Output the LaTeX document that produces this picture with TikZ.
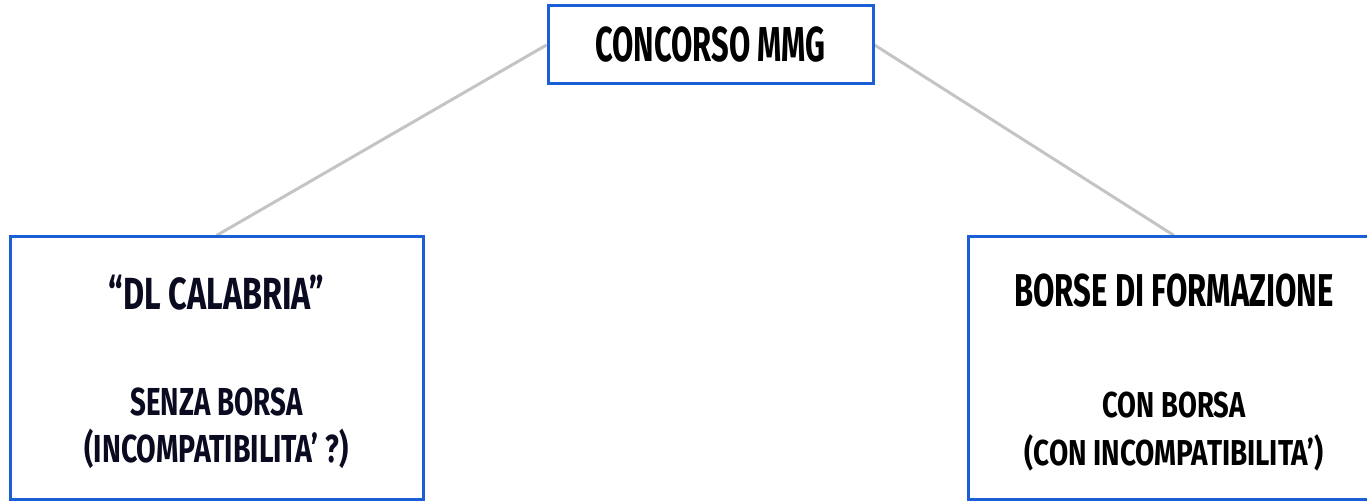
\documentclass[tikz,border=0pt]{standalone}
\usepackage{fontspec}
\usetikzlibrary{backgrounds}
\newfontfamily\bebas{Fira Sans}
\definecolor{boxblue}{HTML}{1A5FD6}
\definecolor{linegrey}{HTML}{C4C4C4}
\definecolor{navy}{HTML}{0A0A20}
\newcommand{\cond}[2]{\scalebox{#1}[1]{#2}}
\begin{document}
\begin{tikzpicture}[x=1pt,y=1pt,
  box/.style={draw=boxblue,line width=3pt,fill=white,rectangle,inner sep=0pt},
  conn/.style={draw=linegrey,line width=3pt},
  lbl/.style={inner sep=0pt,text=black}]
\useasboundingbox (0,0) rectangle (1367,502);
\node[box,minimum width=325pt,minimum height=78pt] (top) at (710.5,457) {};
\node[box,minimum width=413pt,minimum height=263pt] (left) at (216.5,133.5) {};
\node[box,minimum width=412pt,minimum height=263pt] (right) at (1174,133.5) {};
\begin{scope}[on background layer]
\draw[conn] (top.west) -- (left.north);
\draw[conn] (top.east) -- (right.north);
\end{scope}
\node[lbl,font=\bebas\bfseries\fontsize{49}{49}\selectfont] (t1) at (710.5,457) {\cond{0.63}{CONCORSO MMG}};
\node[lbl,text=navy,font=\bebas\bfseries\fontsize{45}{45}\selectfont] (l1) at (216.5,209) {\cond{0.72}{“DL CALABRIA”}};
\node[lbl,text=navy,font=\bebas\bfseries\fontsize{39}{39}\selectfont] (l2) at (216.5,100) {\cond{0.71}{SENZA BORSA}};
\node[lbl,text=navy,font=\bebas\bfseries\fontsize{39}{39}\selectfont] (l3) at (216.5,53) {\cond{0.73}{(INCOMPATIBILITA’ ?)}};
\node[lbl,font=\bebas\bfseries\fontsize{46}{46}\selectfont] (r1) at (1174,211) {\cond{0.674}{BORSE DI FORMAZIONE}};
\node[lbl,font=\bebas\bfseries\fontsize{36}{36}\selectfont] (r2) at (1174,97) {\cond{0.76}{CON BORSA}};
\node[lbl,font=\bebas\bfseries\fontsize{36}{36}\selectfont] (r3) at (1174,49) {\cond{0.775}{(CON INCOMPATIBILITA’)}};
\end{tikzpicture}
\end{document}
